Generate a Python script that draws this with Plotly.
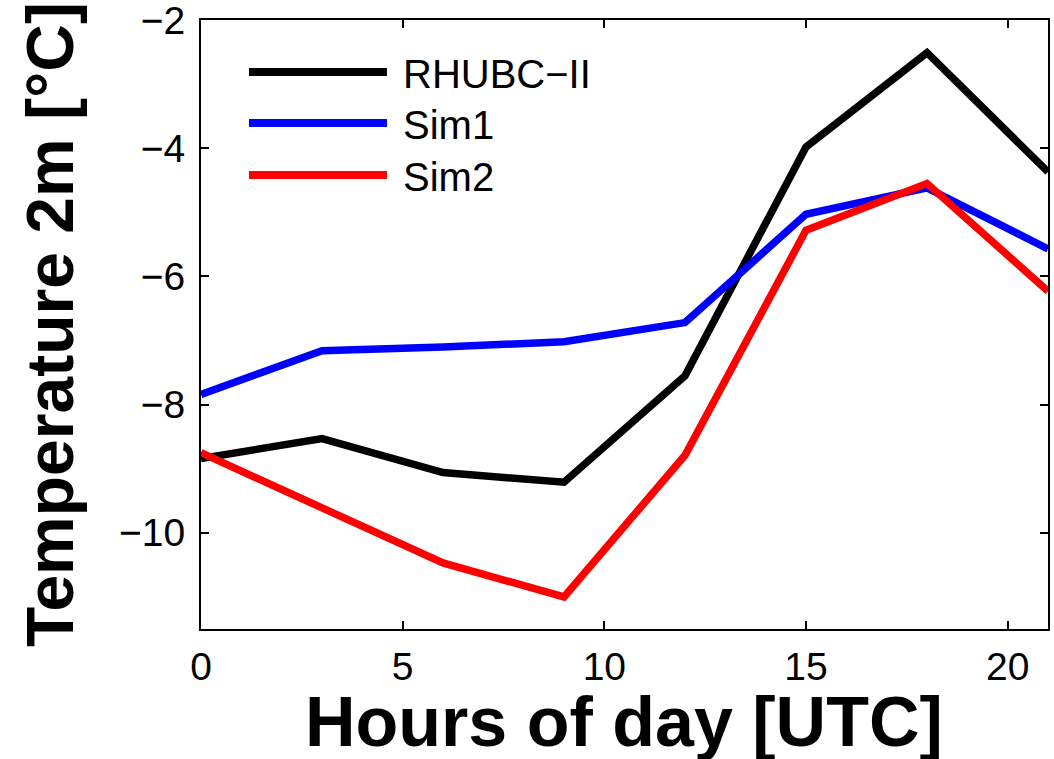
import plotly.graph_objects as go

hours = [0, 3, 6, 9, 12, 15, 18, 21]
rhubc = [-8.84, -8.53, -9.06, -9.21, -7.55, -3.98, -2.51, -4.37]
sim1 = [-7.84, -7.16, -7.10, -7.02, -6.72, -5.03, -4.62, -5.57]
sim2 = [-8.75, -9.60, -10.47, -11.00, -8.79, -5.28, -4.55, -6.23]
series_names = ["RHUBC\u2212II", "Sim1", "Sim2"]
series_colors = ["#000000", "#0000ff", "#ff0000"]
x_ticks = [0, 5, 10, 15, 20]
y_ticks = [-10, -8, -6, -4, -2]

FONT = "Liberation Sans, Arial, Helvetica, sans-serif"

fig = go.Figure()
for name, vals, col in zip(series_names, [rhubc, sim1, sim2], series_colors):
    fig.add_trace(go.Scatter(x=hours, y=vals, mode="lines", name=name,
                             line=dict(color=col, width=7.5), showlegend=False))

W, H = 1054, 759
ml, mr, mt, mb = 201, 6, 20, 130
pw, ph = W - ml - mr, H - mt - mb

def px(xp):
    return (xp - ml) / pw

def py(yp):
    return (H - mb - yp) / ph

# custom legend (MATLAB-style long line samples)
leg_rows = [72, 123, 175]
for name, col, yr in zip(series_names, series_colors, leg_rows):
    fig.add_shape(type="line", xref="paper", yref="paper",
                  x0=px(249), x1=px(387), y0=py(yr), y1=py(yr),
                  line=dict(color=col, width=8))
    fig.add_annotation(xref="paper", yref="paper", x=px(401), y=py(yr + 2),
                       text=name, showarrow=False, xanchor="left", yanchor="middle",
                       font=dict(family=FONT, size=40, color="black"))

fig.add_annotation(xref="paper", yref="paper", x=px(624), y=py(722),
                   text="<b>Hours of day [UTC]</b>", showarrow=False,
                   xanchor="center", yanchor="middle",
                   font=dict(family=FONT, size=70, color="black"))
fig.add_annotation(xref="paper", yref="paper", x=px(50), y=py(325),
                   text="<b>Temperature 2m [°C]</b>", showarrow=False, textangle=-90,
                   xanchor="center", yanchor="middle",
                   font=dict(family=FONT, size=66, color="black"))

axis_common = dict(showline=True, linecolor="black", linewidth=2, mirror="ticks",
                   ticks="inside", ticklen=8, tickwidth=2, tickcolor="black",
                   showgrid=False, zeroline=False, ticklabeloverflow="allow",
                   automargin=False,
                   tickfont=dict(family=FONT, size=39, color="black"))

fig.update_xaxes(range=[0, 21], tickvals=x_ticks, ticklabelstandoff=2, **axis_common)
fig.update_yaxes(range=[-11.5, -2], tickvals=y_ticks, ticklabelstandoff=6, **axis_common)

fig.update_layout(width=W, height=H, margin=dict(l=ml, r=mr, t=mt, b=mb, autoexpand=False),
                  plot_bgcolor="white", paper_bgcolor="white", showlegend=False)

fig.write_html("out.html")
